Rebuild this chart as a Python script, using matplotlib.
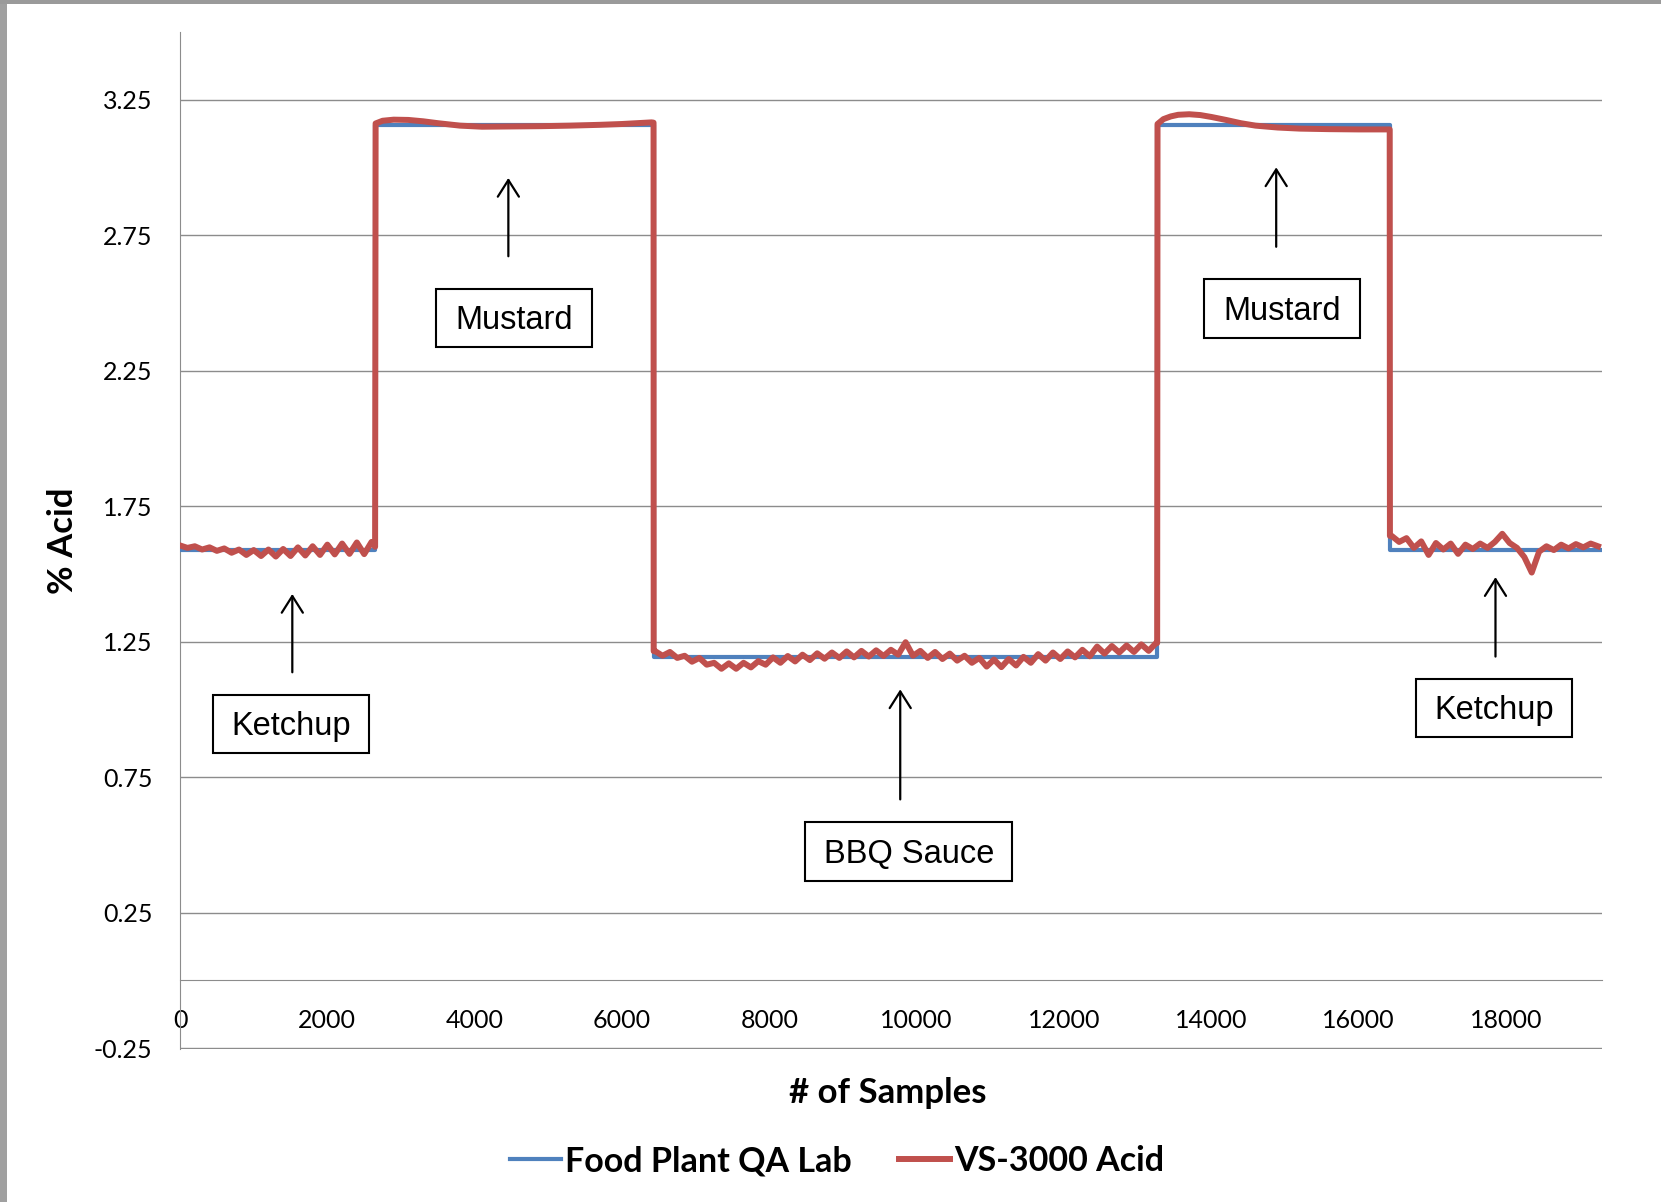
import numpy as np
import matplotlib.pyplot as plt
from matplotlib.patches import Rectangle

plt.rcParams['font.family'] = ['Lato', 'DejaVu Sans']

# Food Plant QA Lab reference values (step by product)
qa_x = [0, 2650, 2650, 6430, 6430, 13265, 13265, 16425, 16425, 19300]
qa_y = [1.59, 1.59, 3.155, 3.155, 1.195, 1.195, 3.155, 3.155, 1.59, 1.59]

# VS-3000 readings
ketchup1_x = np.arange(0, 2700, 100)
ketchup1_y = [1.605, 1.596, 1.602, 1.590, 1.598, 1.585, 1.594, 1.578, 1.590, 1.570,
              1.588, 1.566, 1.590, 1.564, 1.592, 1.566, 1.598, 1.568, 1.602, 1.570,
              1.608, 1.572, 1.612, 1.574, 1.616, 1.573, 1.618]

mustard1_x = [2648, 2655, 2750, 2900, 3100, 3300, 3500, 3800, 4100, 4500, 4900,
              5300, 5700, 6000, 6200, 6400, 6428]
mustard1_y = [1.600, 3.162, 3.172, 3.176, 3.175, 3.170, 3.163, 3.154, 3.150, 3.151,
              3.152, 3.154, 3.157, 3.160, 3.163, 3.166, 3.165]

bbq_x = np.arange(6450, 13300, 100)
bbq_y = [1.215, 1.198, 1.212, 1.190, 1.198, 1.176, 1.190, 1.165, 1.172, 1.150,
         1.170, 1.150, 1.172, 1.155, 1.178, 1.165, 1.192, 1.172, 1.197, 1.177,
         1.202, 1.182, 1.207, 1.187, 1.210, 1.190, 1.214, 1.192, 1.216, 1.195,
         1.218, 1.197, 1.220, 1.202, 1.248, 1.198, 1.216, 1.190, 1.212, 1.186,
         1.206, 1.180, 1.198, 1.172, 1.190, 1.158, 1.184, 1.156, 1.186, 1.162,
         1.194, 1.172, 1.204, 1.180, 1.210, 1.186, 1.214, 1.192, 1.220, 1.196,
         1.232, 1.206, 1.234, 1.210, 1.236, 1.212, 1.240, 1.216, 1.245]

mustard2_x = [13265, 13270, 13350, 13450, 13550, 13700, 13850, 14000, 14200, 14400,
              14600, 14900, 15200, 15600, 16000, 16400, 16422]
mustard2_y = [1.245, 3.160, 3.178, 3.188, 3.194, 3.196, 3.193, 3.186, 3.175, 3.163,
              3.154, 3.147, 3.143, 3.141, 3.140, 3.140, 3.140]

ketchup2_x = np.arange(16450, 19350, 100)
ketchup2_y = [1.640, 1.618, 1.632, 1.596, 1.620, 1.570, 1.614, 1.590, 1.612, 1.574,
              1.608, 1.592, 1.612, 1.596, 1.618, 1.648, 1.614, 1.596, 1.562, 1.505,
              1.582, 1.602, 1.588, 1.608, 1.594, 1.610, 1.598, 1.612, 1.602]

vs_x = np.concatenate([ketchup1_x, mustard1_x, [6430], bbq_x, mustard2_x, [16425], ketchup2_x])
vs_y = np.concatenate([ketchup1_y, mustard1_y, [1.215], bbq_y, mustard2_y, [1.640], ketchup2_y])

y_ticks = [-0.25, 0.25, 0.75, 1.25, 1.75, 2.25, 2.75, 3.25]
x_ticks = [0, 2000, 4000, 6000, 8000, 10000, 12000, 14000, 16000, 18000]

# product labels: text, box centre, box size, arrow x, arrow tail, arrow tip
labels = ['Mustard', 'Mustard', 'Ketchup', 'BBQ Sauce', 'Ketchup']
label_xy = [(4536, 2.445), (14961, 2.480), (1510, 0.947), (9892, 0.475), (17836, 1.006)]
box_w = [2118, 2118, 2118, 2818, 2118]
arrow_x = [4457, 14881, 1524, 9777, 17858]
arrow_tail = [2.672, 2.707, 1.137, 0.668, 1.195]
arrow_tip = [2.961, 3.000, 1.426, 1.074, 1.488]

fig = plt.figure(figsize=(16.61, 12.02), dpi=100)
ax = fig.add_axes([0.1084, 0.1275, 0.8559, 0.846])

grey = '#8c8c8c'
ax.plot(qa_x, qa_y, color='#4f81bd', lw=3, label='Food Plant QA Lab', zorder=3)
ax.plot(vs_x, vs_y, color='#c0504d', lw=4.3, label='VS-3000 Acid', zorder=4,
        solid_joinstyle='round')

ax.set_xlim(0, 19300)
ax.set_ylim(-0.252, 3.5)
ax.set_yticks(y_ticks)
ax.set_yticklabels([f'{v:.2f}' for v in y_ticks])
ax.set_xticks(x_ticks)
ax.set_xticklabels([str(v) for v in x_ticks])
ax.tick_params(axis='both', length=0, labelsize=18, colors='black')
ax.tick_params(axis='y', pad=20)
ax.tick_params(axis='x', pad=20.5)
ax.grid(axis='y', color=grey, lw=1.0)
ax.set_axisbelow(True)

for s in ['top', 'right']:
    ax.spines[s].set_visible(False)
ax.spines['left'].set_color(grey)
ax.spines['bottom'].set_color(grey)
ax.spines['bottom'].set_position(('data', 0))

ax.set_ylabel('% Acid', fontsize=25, fontweight='bold')
ax.yaxis.set_label_coords(-0.082, 0.5)
ax.yaxis.label.set_verticalalignment('center')
ax.set_xlabel('# of Samples', fontsize=25, fontweight='bold')
ax.xaxis.set_label_coords(0.498, -0.0436)
ax.xaxis.label.set_verticalalignment('center')

for txt, (cx, cy), w, axx, y0, y1 in zip(labels, label_xy, box_w, arrow_x, arrow_tail, arrow_tip):
    h = 0.216
    ax.add_patch(Rectangle((cx - w / 2, cy - h / 2), w, h, fill=False,
                           edgecolor='black', lw=1.5, zorder=5))
    ax.text(cx, cy - 0.01, txt, ha='center', va='center', fontsize=23.5,
            family=['Liberation Sans', 'DejaVu Sans'], zorder=6)
    ax.annotate('', xy=(axx, y1), xytext=(axx, y0),
                arrowprops=dict(arrowstyle='->,head_length=0.6,head_width=0.38',
                                color='black', lw=1.6, mutation_scale=20,
                                shrinkA=0, shrinkB=0), zorder=6)

fig.legend(loc='center', bbox_to_anchor=(0.504, 0.034), ncol=2, frameon=False,
           prop={'size': 24.5, 'weight': 'bold'}, handlelength=1.5,
           handletextpad=0.1, columnspacing=1.4)

# grey window frame on the left and top edges
fig.add_artist(Rectangle((0, 0), 7 / 1661, 1, transform=fig.transFigure,
                         color='#a0a0a0', lw=0))
fig.add_artist(Rectangle((0, 1 - 4 / 1202), 1, 4 / 1202, transform=fig.transFigure,
                         color='#9a9a9a', lw=0))

fig.savefig('out.png', dpi=100)
